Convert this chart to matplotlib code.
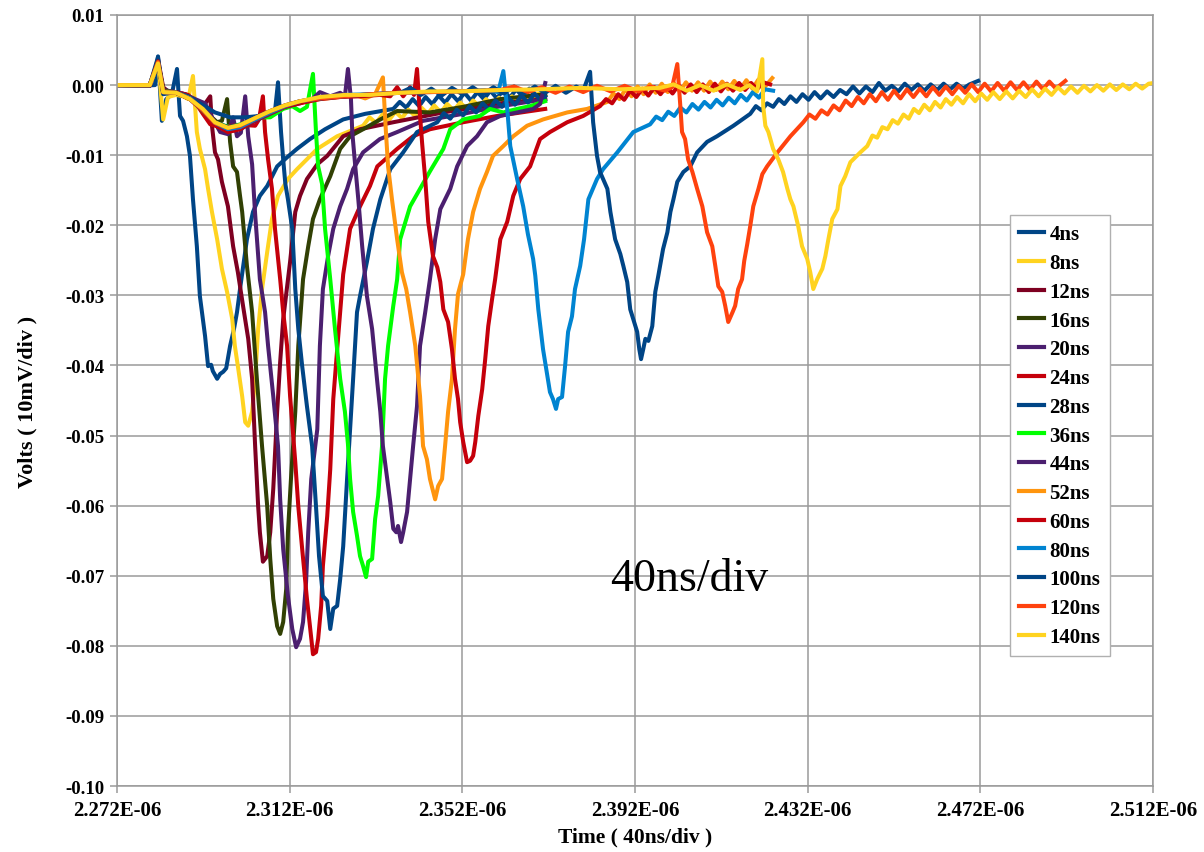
import matplotlib
matplotlib.use('Agg')
import matplotlib.pyplot as plt
from matplotlib.ticker import FuncFormatter, FormatStrFormatter

plt.rcParams['font.family'] = ['Liberation Serif', 'DejaVu Serif']

# time in ns (absolute), amplitude in volts
pulse_4ns = [(2272.0, 0.0), (2277.3, -0.0001), (2280.8, 0.0), (2281.5, 0.0041), (2282.4, -0.0051),
             (2283.4, -0.0020), (2284.7, -0.0013), (2285.9, 0.0023), (2286.6, -0.0044), (2287.3, -0.0051),
             (2288.2, -0.0073), (2288.9, -0.0101), (2289.6, -0.0163), (2290.5, -0.0230), (2291.2, -0.0301),
             (2292.4, -0.0358), (2293.1, -0.0401), (2293.8, -0.0399), (2294.2, -0.0408), (2295.2, -0.0419),
             (2295.9, -0.0412), (2296.6, -0.0409), (2297.3, -0.0404), (2298.2, -0.0372), (2299.1, -0.0348),
             (2299.8, -0.0324), (2300.5, -0.0291), (2301.4, -0.0251), (2302.1, -0.0220), (2303.5, -0.0181),
             (2305.1, -0.0158), (2306.8, -0.0144), (2309.1, -0.0116), (2311.4, -0.0103), (2313.7, -0.0091),
             (2316.7, -0.0077), (2320.2, -0.0063), (2324.4, -0.0049), (2329.5, -0.0041), (2336.0, -0.0034),
             (2337.5, -0.0024), (2339.0, -0.0032), (2340.5, -0.0020), (2342.0, -0.0030), (2343.5, -0.0017),
             (2345.0, -0.0027), (2346.5, -0.0015), (2348.0, -0.0025), (2349.5, -0.0013), (2351.0, -0.0023),
             (2352.5, -0.0011), (2354.0, -0.0022), (2355.5, -0.0010), (2357.0, -0.0020), (2358.5, -0.0008),
             (2360.0, -0.0019), (2361.5, -0.0007), (2363.0, -0.0018), (2364.5, -0.0006), (2366.0, -0.0017),
             (2367.5, -0.0005), (2369.0, -0.0016), (2371.2, -0.0008)]

pulse_8ns = [(2272.0, 0.0), (2279.6, 0.0), (2281.5, 0.0034), (2282.7, -0.0049), (2283.8, -0.0017),
             (2285.7, -0.0014), (2287.3, -0.0016), (2288.5, -0.0020), (2289.6, 0.0013), (2290.5, -0.0067),
             (2291.2, -0.0091), (2292.4, -0.0120), (2293.1, -0.0148), (2294.0, -0.0181), (2295.2, -0.0220),
             (2296.3, -0.0262), (2297.5, -0.0295), (2298.7, -0.0334), (2299.3, -0.0372), (2300.0, -0.0401),
             (2301.0, -0.0444), (2301.7, -0.0481), (2302.4, -0.0486), (2303.3, -0.0466), (2304.0, -0.0419),
             (2304.7, -0.0348), (2305.6, -0.0291), (2306.8, -0.0238), (2307.9, -0.0191), (2309.3, -0.0158),
             (2311.6, -0.0134), (2313.7, -0.0120), (2318.4, -0.0091), (2323.0, -0.0073), (2329.0, -0.0058),
             (2330.5, -0.0046), (2332.0, -0.0054), (2333.5, -0.0042), (2335.0, -0.0050), (2336.5, -0.0038),
             (2338.0, -0.0047), (2339.5, -0.0035), (2341.0, -0.0044), (2342.5, -0.0032), (2344.0, -0.0041),
             (2345.5, -0.0029), (2347.0, -0.0039), (2348.5, -0.0027), (2350.0, -0.0036), (2351.5, -0.0025),
             (2353.0, -0.0034), (2354.5, -0.0022), (2356.0, -0.0031), (2357.5, -0.0020), (2359.0, -0.0029),
             (2360.5, -0.0018), (2362.0, -0.0027), (2363.5, -0.0016), (2365.0, -0.0025), (2366.5, -0.0014),
             (2368.0, -0.0023), (2369.5, -0.0012), (2371.2, -0.0016)]

pulse_12ns = [(2272.0, 0.0), (2279.6, -0.0001), (2281.5, 0.0037), (2282.7, -0.0003), (2283.8, -0.0009),
              (2285.7, -0.0010), (2287.8, -0.0013), (2289.4, -0.0020), (2290.8, -0.0029), (2291.9, -0.0031),
              (2293.6, -0.0016), (2294.0, -0.0058), (2294.7, -0.0096), (2295.4, -0.0106), (2296.3, -0.0138),
              (2297.7, -0.0173), (2298.9, -0.0230), (2300.0, -0.0267), (2301.2, -0.0315), (2302.4, -0.0362),
              (2303.3, -0.0419), (2304.0, -0.0515), (2304.7, -0.0601), (2305.1, -0.0638), (2305.8, -0.0680),
              (2306.8, -0.0672), (2307.5, -0.0638), (2308.2, -0.0576), (2309.1, -0.0466), (2309.8, -0.0395),
              (2310.5, -0.0334), (2312.1, -0.0252), (2313.3, -0.0181), (2314.4, -0.0158), (2316.0, -0.0134),
              (2318.4, -0.0113), (2320.7, -0.0101), (2324.4, -0.0073), (2328.3, -0.0063), (2336.0, -0.0053),
              (2347.6, -0.0039), (2360.8, -0.0026), (2371.2, -0.0020)]

pulse_16ns = [(2272.0, 0.0), (2279.6, 0.0), (2281.5, 0.0033), (2282.7, -0.0006), (2284.7, -0.0010),
              (2287.8, -0.0014), (2289.6, -0.0020), (2291.2, -0.0026), (2292.6, -0.0037), (2293.6, -0.0044),
              (2295.2, -0.0053), (2296.3, -0.0051), (2297.5, -0.0020), (2298.2, -0.0081), (2298.9, -0.0116),
              (2299.8, -0.0124), (2300.5, -0.0158), (2301.0, -0.0181), (2302.1, -0.0258), (2303.3, -0.0324),
              (2304.4, -0.0419), (2305.6, -0.0515), (2306.8, -0.0601), (2307.5, -0.0676), (2308.2, -0.0733),
              (2309.1, -0.0772), (2309.8, -0.0783), (2310.5, -0.0766), (2311.2, -0.0719), (2311.6, -0.0638),
              (2312.3, -0.0562), (2313.3, -0.0466), (2314.0, -0.0372), (2315.1, -0.0277), (2316.3, -0.0230),
              (2317.4, -0.0191), (2319.0, -0.0163), (2321.4, -0.0130), (2323.7, -0.0091), (2326.0, -0.0073),
              (2329.0, -0.0063), (2333.0, -0.0049), (2336.9, -0.0037), (2344.5, -0.0039), (2352.2, -0.0031),
              (2360.8, -0.0020), (2371.2, -0.0013)]

pulse_20ns = [(2272.0, 0.0), (2279.6, -0.0001), (2281.5, 0.0031), (2282.7, -0.0007), (2284.7, -0.0009),
              (2287.8, -0.0013), (2290.1, -0.0020), (2292.4, -0.0026), (2294.0, -0.0046), (2295.9, -0.0067),
              (2297.7, -0.0070), (2298.9, -0.0046), (2299.8, -0.0073), (2300.7, -0.0068), (2301.7, -0.0016),
              (2302.4, -0.0073), (2303.3, -0.0113), (2304.0, -0.0184), (2305.1, -0.0277), (2306.3, -0.0324),
              (2307.0, -0.0372), (2308.2, -0.0444), (2309.3, -0.0515), (2309.8, -0.0591), (2310.5, -0.0662),
              (2311.6, -0.0729), (2312.6, -0.0776), (2313.5, -0.0802), (2314.4, -0.0790), (2315.1, -0.0766),
              (2315.8, -0.0709), (2316.3, -0.0638), (2317.0, -0.0562), (2318.4, -0.0491), (2319.0, -0.0372),
              (2319.7, -0.0291), (2320.9, -0.0244), (2322.1, -0.0205), (2323.7, -0.0173), (2325.3, -0.0148),
              (2326.7, -0.0120), (2329.0, -0.0096), (2332.9, -0.0077), (2336.9, -0.0067), (2342.9, -0.0051),
              (2352.2, -0.0041), (2360.1, -0.0031), (2371.2, -0.0020)]

pulse_24ns = [(2272.0, 0.0), (2279.6, 0.0), (2281.5, 0.0033), (2282.7, -0.0009), (2285.4, -0.0010),
              (2288.5, -0.0014), (2290.3, -0.0026), (2291.9, -0.0041), (2293.6, -0.0056), (2295.9, -0.0060),
              (2298.7, -0.0058), (2301.7, -0.0057), (2304.0, -0.0058), (2304.9, -0.0049), (2305.8, -0.0016),
              (2306.3, -0.0067), (2307.0, -0.0106), (2307.9, -0.0148), (2308.6, -0.0205), (2309.8, -0.0277),
              (2310.5, -0.0324), (2311.4, -0.0372), (2312.1, -0.0444), (2313.3, -0.0538), (2314.0, -0.0601),
              (2314.9, -0.0662), (2316.0, -0.0733), (2316.7, -0.0772), (2317.4, -0.0812), (2318.1, -0.0809),
              (2318.6, -0.0790), (2319.3, -0.0743), (2319.7, -0.0686), (2320.7, -0.0615), (2321.4, -0.0548),
              (2322.1, -0.0448), (2323.2, -0.0362), (2324.4, -0.0270), (2326.0, -0.0205), (2328.3, -0.0173),
              (2330.6, -0.0144), (2332.3, -0.0116), (2336.9, -0.0091), (2340.6, -0.0073), (2344.5, -0.0063),
              (2352.2, -0.0053), (2360.1, -0.0044), (2371.2, -0.0034)]

pulse_28ns = [(2272.0, 0.0), (2279.6, 0.0), (2281.5, 0.0040), (2282.7, -0.0013), (2285.4, -0.0010),
              (2288.5, -0.0016), (2291.2, -0.0026), (2294.7, -0.0039), (2298.2, -0.0046), (2301.7, -0.0046),
              (2305.1, -0.0044), (2307.5, -0.0041), (2308.6, -0.0037), (2309.3, 0.0004), (2310.0, -0.0067),
              (2310.5, -0.0106), (2311.0, -0.0141), (2311.6, -0.0163), (2312.6, -0.0205), (2313.3, -0.0291),
              (2314.0, -0.0348), (2314.9, -0.0401), (2316.0, -0.0458), (2317.2, -0.0515), (2318.1, -0.0601),
              (2318.8, -0.0672), (2319.7, -0.0729), (2320.7, -0.0736), (2321.4, -0.0776), (2322.1, -0.0747),
              (2323.0, -0.0743), (2323.7, -0.0705), (2324.4, -0.0658), (2325.3, -0.0562), (2326.0, -0.0491),
              (2326.7, -0.0419), (2327.6, -0.0324), (2328.3, -0.0301), (2329.9, -0.0252), (2331.3, -0.0205),
              (2333.0, -0.0163), (2335.3, -0.0120), (2338.3, -0.0096), (2341.5, -0.0067), (2346.2, -0.0053),
              (2347.7, -0.0040), (2349.2, -0.0048), (2350.7, -0.0035), (2352.2, -0.0043), (2353.7, -0.0030),
              (2355.2, -0.0039), (2356.7, -0.0026), (2358.2, -0.0035), (2359.7, -0.0022), (2361.2, -0.0031),
              (2362.7, -0.0018), (2364.2, -0.0028), (2365.7, -0.0015), (2367.2, -0.0025), (2368.7, -0.0012),
              (2370.2, -0.0022), (2371.2, -0.0016)]

pulse_36ns = [(2272.0, 0.0), (2279.6, 0.0), (2281.5, 0.0033), (2282.7, -0.0009), (2285.4, -0.0010),
              (2288.9, -0.0019), (2291.9, -0.0037), (2294.7, -0.0054), (2298.2, -0.0060), (2301.7, -0.0054),
              (2304.4, -0.0046), (2307.5, -0.0046), (2310.5, -0.0034), (2312.6, -0.0030), (2314.4, -0.0037),
              (2316.0, -0.0031), (2317.4, 0.0016), (2318.1, -0.0067), (2318.6, -0.0116), (2319.5, -0.0141),
              (2320.2, -0.0205), (2321.4, -0.0277), (2322.5, -0.0348), (2323.7, -0.0419), (2324.8, -0.0466),
              (2325.5, -0.0512), (2326.0, -0.0562), (2326.7, -0.0609), (2327.6, -0.0643), (2328.3, -0.0672),
              (2329.0, -0.0686), (2329.7, -0.0702), (2330.2, -0.0680), (2331.1, -0.0676), (2331.8, -0.0619),
              (2332.5, -0.0586), (2333.4, -0.0515), (2334.1, -0.0419), (2334.8, -0.0372), (2336.0, -0.0315),
              (2336.9, -0.0277), (2337.6, -0.0220), (2339.9, -0.0173), (2342.2, -0.0148), (2344.5, -0.0123),
              (2347.6, -0.0091), (2349.2, -0.0063), (2352.2, -0.0049), (2356.1, -0.0044), (2358.4, -0.0034),
              (2361.5, -0.0039), (2364.7, -0.0034), (2367.7, -0.0030), (2371.2, -0.0023)]

pulse_44ns = [(2272.0, 0.0), (2279.6, 0.0), (2281.5, 0.0031), (2282.7, -0.0010), (2285.7, -0.0011),
              (2288.9, -0.0019), (2291.9, -0.0034), (2294.7, -0.0054), (2297.7, -0.0066), (2300.5, -0.0063),
              (2304.0, -0.0051), (2307.5, -0.0041), (2310.9, -0.0031), (2314.4, -0.0026), (2317.2, -0.0020),
              (2319.0, -0.0010), (2321.4, -0.0016), (2323.7, -0.0011), (2324.8, -0.0016), (2325.5, 0.0023),
              (2326.2, -0.0020), (2326.5, -0.0067), (2327.2, -0.0116), (2327.9, -0.0163), (2328.8, -0.0230),
              (2329.9, -0.0301), (2331.1, -0.0348), (2332.3, -0.0424), (2333.0, -0.0466), (2333.6, -0.0515),
              (2334.6, -0.0562), (2335.3, -0.0595), (2336.0, -0.0633), (2336.7, -0.0638), (2337.1, -0.0629),
              (2337.8, -0.0652), (2338.3, -0.0638), (2339.2, -0.0609), (2339.9, -0.0562), (2340.6, -0.0515),
              (2341.5, -0.0458), (2342.2, -0.0372), (2343.4, -0.0324), (2344.5, -0.0277), (2345.7, -0.0220),
              (2346.9, -0.0177), (2349.2, -0.0148), (2350.8, -0.0116), (2353.1, -0.0087), (2355.4, -0.0073),
              (2357.7, -0.0053), (2360.8, -0.0044), (2364.7, -0.0039), (2368.4, -0.0034), (2370.0, -0.0027),
              (2371.2, 0.0003)]

pulse_52ns = [(2272.0, 0.0), (2279.6, 0.0), (2281.5, 0.0030), (2282.7, -0.0010), (2285.7, -0.0011),
              (2288.9, -0.0019), (2291.9, -0.0036), (2294.7, -0.0056), (2297.7, -0.0066), (2300.5, -0.0061),
              (2304.0, -0.0049), (2307.5, -0.0039), (2310.9, -0.0030), (2314.4, -0.0024), (2319.0, -0.0020),
              (2323.7, -0.0017), (2327.2, -0.0014), (2329.5, -0.0019), (2331.8, -0.0013), (2333.6, 0.0011),
              (2334.3, -0.0067), (2334.8, -0.0116), (2335.7, -0.0163), (2336.9, -0.0220), (2338.0, -0.0267),
              (2339.0, -0.0291), (2339.9, -0.0324), (2341.1, -0.0372), (2342.2, -0.0444), (2342.9, -0.0515),
              (2343.8, -0.0534), (2344.5, -0.0562), (2345.7, -0.0591), (2346.4, -0.0572), (2347.3, -0.0562),
              (2348.0, -0.0515), (2348.7, -0.0466), (2349.6, -0.0419), (2350.3, -0.0348), (2351.0, -0.0298),
              (2352.2, -0.0270), (2353.3, -0.0220), (2354.5, -0.0181), (2356.1, -0.0148), (2357.7, -0.0124),
              (2359.1, -0.0101), (2361.5, -0.0087), (2363.8, -0.0073), (2367.0, -0.0058), (2370.7, -0.0049),
              (2376.3, -0.0039), (2380.9, -0.0034), (2385.6, -0.0024), (2387.0, -0.0012), (2388.4, -0.0020),
              (2389.8, -0.0006), (2391.2, -0.0016), (2392.6, -0.0002), (2394.0, -0.0013), (2395.4, 0.0001),
              (2396.8, -0.0011), (2398.2, 0.0002), (2399.6, -0.0010), (2401.0, 0.0003), (2402.4, -0.0009),
              (2403.8, 0.0004), (2405.2, -0.0008), (2406.6, 0.0004), (2408.0, -0.0008), (2409.4, 0.0005),
              (2410.8, -0.0007), (2412.2, 0.0005), (2413.6, -0.0006), (2415.0, 0.0006), (2416.4, -0.0006),
              (2417.8, 0.0007), (2419.2, -0.0005), (2420.6, 0.0008), (2422.0, -0.0003), (2423.8, 0.0010)]

pulse_60ns = [(2272.0, 0.0), (2279.6, 0.0), (2281.5, 0.0034), (2282.7, -0.0009), (2285.7, -0.0011),
              (2288.9, -0.0020), (2291.9, -0.0037), (2294.7, -0.0057), (2297.7, -0.0067), (2300.5, -0.0063),
              (2304.0, -0.0050), (2307.5, -0.0040), (2310.9, -0.0031), (2314.4, -0.0026), (2319.0, -0.0020),
              (2323.7, -0.0017), (2328.3, -0.0016), (2332.9, -0.0014), (2335.3, -0.0016), (2336.9, -0.0003),
              (2338.3, -0.0016), (2339.9, -0.0003), (2340.8, -0.0014), (2341.5, 0.0023), (2342.2, -0.0044),
              (2342.7, -0.0084), (2343.4, -0.0134), (2344.1, -0.0195), (2345.2, -0.0244), (2346.2, -0.0260),
              (2346.9, -0.0281), (2347.6, -0.0320), (2348.7, -0.0338), (2349.6, -0.0377), (2350.3, -0.0419),
              (2351.0, -0.0448), (2351.5, -0.0481), (2352.2, -0.0509), (2353.1, -0.0538), (2353.8, -0.0536),
              (2354.5, -0.0529), (2355.0, -0.0509), (2355.7, -0.0472), (2356.6, -0.0434), (2357.3, -0.0391),
              (2358.0, -0.0344), (2358.9, -0.0305), (2359.6, -0.0277), (2360.8, -0.0220), (2362.4, -0.0195),
              (2363.8, -0.0158), (2365.4, -0.0134), (2367.7, -0.0116), (2370.0, -0.0077), (2372.3, -0.0067),
              (2376.3, -0.0053), (2380.0, -0.0044), (2383.9, -0.0030), (2385.3, -0.0020), (2386.7, -0.0026),
              (2388.1, -0.0013), (2389.5, -0.0021), (2390.9, -0.0008), (2392.3, -0.0017), (2393.7, -0.0005),
              (2395.1, -0.0015), (2396.5, -0.0003), (2397.9, -0.0013), (2399.3, -0.0002), (2400.7, -0.0012),
              (2402.1, 0.0000), (2403.5, -0.0011), (2404.9, 0.0001), (2406.3, -0.0010), (2407.7, 0.0001),
              (2409.1, -0.0010), (2410.5, 0.0002), (2411.9, -0.0009), (2413.3, 0.0002), (2414.7, -0.0008),
              (2416.1, 0.0003), (2417.5, -0.0007), (2418.9, 0.0003), (2420.3, -0.0006), (2421.7, 0.0004),
              (2423.3, 0.0001)]

pulse_80ns = [(2272.0, 0.0), (2279.6, 0.0), (2281.5, 0.0031), (2282.7, -0.0010), (2285.7, -0.0011),
              (2288.9, -0.0019), (2291.9, -0.0036), (2294.7, -0.0054), (2297.7, -0.0063), (2300.5, -0.0060),
              (2304.0, -0.0049), (2307.5, -0.0039), (2310.9, -0.0030), (2314.4, -0.0023), (2319.0, -0.0019),
              (2324.8, -0.0014), (2330.6, -0.0013), (2337.6, -0.0011), (2344.5, -0.0010), (2351.5, -0.0009),
              (2357.3, -0.0007), (2360.3, -0.0010), (2361.5, 0.0020), (2362.4, -0.0034), (2363.1, -0.0087),
              (2364.7, -0.0134), (2366.1, -0.0173), (2367.2, -0.0213), (2368.4, -0.0248), (2368.9, -0.0272),
              (2369.6, -0.0320), (2370.7, -0.0377), (2371.7, -0.0415), (2372.3, -0.0438), (2373.0, -0.0448),
              (2373.7, -0.0462), (2374.2, -0.0448), (2375.1, -0.0445), (2375.8, -0.0401), (2376.5, -0.0352),
              (2377.4, -0.0330), (2378.1, -0.0291), (2379.3, -0.0258), (2380.2, -0.0220), (2381.2, -0.0163),
              (2383.2, -0.0134), (2384.6, -0.0120), (2387.9, -0.0096), (2391.6, -0.0067), (2395.5, -0.0056),
              (2396.9, -0.0045), (2398.3, -0.0050), (2399.7, -0.0038), (2401.1, -0.0044), (2402.5, -0.0032),
              (2403.9, -0.0039), (2405.3, -0.0027), (2406.7, -0.0035), (2408.1, -0.0024), (2409.5, -0.0032),
              (2410.9, -0.0021), (2412.3, -0.0029), (2413.7, -0.0018), (2415.1, -0.0026), (2416.5, -0.0014),
              (2417.9, -0.0022), (2419.3, -0.0010), (2420.7, -0.0018), (2422.1, -0.0006), (2424.0, -0.0008)]

pulse_100ns = [(2272.0, 0.0), (2279.6, 0.0), (2281.5, 0.0033), (2282.7, -0.0010), (2285.7, -0.0011),
               (2288.9, -0.0020), (2291.9, -0.0036), (2294.7, -0.0053), (2297.7, -0.0060), (2300.5, -0.0057),
               (2304.0, -0.0046), (2307.5, -0.0037), (2310.9, -0.0029), (2314.4, -0.0023), (2319.0, -0.0019),
               (2324.8, -0.0016), (2330.6, -0.0013), (2337.6, -0.0011), (2340.0, -0.0004), (2342.4, -0.0014),
               (2344.8, -0.0005), (2347.2, -0.0015), (2349.6, -0.0004), (2352.0, -0.0013), (2354.4, -0.0003),
               (2356.8, -0.0013), (2359.2, -0.0003), (2361.6, -0.0012), (2364.0, -0.0002), (2366.4, -0.0012),
               (2368.8, -0.0002), (2371.2, -0.0011), (2373.6, -0.0001), (2376.0, -0.0011), (2378.4, -0.0002),
               (2380.0, -0.0008), (2381.6, 0.0019), (2382.3, -0.0053), (2383.2, -0.0101), (2383.9, -0.0124),
               (2385.6, -0.0148), (2386.3, -0.0181), (2387.4, -0.0220), (2388.6, -0.0241), (2389.3, -0.0258),
               (2390.2, -0.0281), (2390.9, -0.0320), (2391.6, -0.0334), (2392.5, -0.0352), (2393.0, -0.0377),
               (2393.4, -0.0391), (2393.9, -0.0377), (2394.4, -0.0362), (2395.1, -0.0365), (2396.0, -0.0344),
               (2396.7, -0.0295), (2397.4, -0.0272), (2398.5, -0.0234), (2399.5, -0.0210), (2400.2, -0.0181),
               (2400.9, -0.0163), (2401.8, -0.0138), (2403.2, -0.0124), (2404.8, -0.0116), (2406.4, -0.0096),
               (2408.7, -0.0081), (2411.0, -0.0073), (2414.8, -0.0058), (2418.7, -0.0041), (2420.0, -0.0030),
               (2421.3, -0.0036), (2422.6, -0.0026), (2424.0, -0.0031), (2425.3, -0.0020), (2426.6, -0.0027),
               (2428.0, -0.0016), (2429.4, -0.0024), (2430.8, -0.0013), (2432.2, -0.0021), (2433.6, -0.0010),
               (2435.0, -0.0019), (2436.5, -0.0009), (2438.0, -0.0017), (2439.5, -0.0007), (2441.0, -0.0013),
               (2442.5, -0.0002), (2444.0, -0.0012), (2445.5, -0.0002), (2447.0, -0.0010), (2448.5, 0.0003),
               (2450.0, -0.0008), (2451.5, -0.0001), (2453.0, -0.0009), (2454.5, 0.0002), (2456.0, -0.0007),
               (2457.5, 0.0001), (2459.0, -0.0008), (2460.5, 0.0001), (2462.0, -0.0007), (2463.5, 0.0002),
               (2465.0, -0.0006), (2466.5, 0.0002), (2468.0, -0.0005), (2469.5, 0.0001), (2471.5, 0.0006)]

pulse_120ns = [(2272.0, 0.0), (2279.6, 0.0), (2281.5, 0.0033), (2282.7, -0.0010), (2285.7, -0.0011),
               (2288.9, -0.0020), (2291.9, -0.0036), (2294.7, -0.0054), (2297.7, -0.0061), (2300.5, -0.0058),
               (2304.0, -0.0047), (2307.5, -0.0037), (2310.9, -0.0029), (2314.4, -0.0023), (2319.0, -0.0019),
               (2324.8, -0.0016), (2330.6, -0.0013), (2337.6, -0.0011), (2344.5, -0.0010), (2351.5, -0.0009),
               (2360.8, -0.0007), (2364.0, -0.0002), (2367.2, -0.0010), (2370.4, -0.0003), (2373.6, -0.0011),
               (2376.8, -0.0002), (2380.0, -0.0010), (2383.2, -0.0001), (2386.4, -0.0009), (2389.6, -0.0001),
               (2392.8, -0.0009), (2395.5, -0.0002), (2398.9, -0.0008), (2400.6, -0.0003), (2401.8, 0.0030),
               (2402.5, -0.0030), (2402.9, -0.0067), (2403.6, -0.0077), (2404.3, -0.0106), (2405.3, -0.0124),
               (2406.4, -0.0148), (2407.6, -0.0173), (2408.7, -0.0210), (2409.9, -0.0230), (2410.6, -0.0258),
               (2411.3, -0.0287), (2412.2, -0.0295), (2412.9, -0.0315), (2413.6, -0.0338), (2414.6, -0.0324),
               (2415.2, -0.0315), (2415.9, -0.0291), (2416.8, -0.0277), (2417.3, -0.0251), (2418.0, -0.0227),
               (2418.7, -0.0201), (2419.4, -0.0173), (2420.6, -0.0148), (2421.5, -0.0127), (2422.6, -0.0116),
               (2425.0, -0.0096), (2428.0, -0.0073), (2431.0, -0.0053), (2432.4, -0.0042), (2433.8, -0.0048),
               (2435.2, -0.0036), (2436.6, -0.0042), (2438.0, -0.0029), (2439.4, -0.0036), (2440.8, -0.0022),
               (2442.2, -0.0030), (2443.6, -0.0017), (2445.0, -0.0026), (2446.4, -0.0013), (2447.8, -0.0023),
               (2449.2, -0.0010), (2450.6, -0.0021), (2452.0, -0.0008), (2453.5, -0.0019), (2455.0, -0.0006),
               (2456.5, -0.0017), (2458.0, -0.0005), (2459.5, -0.0016), (2461.0, -0.0003), (2462.5, -0.0014),
               (2464.0, -0.0002), (2465.5, -0.0013), (2467.0, -0.0001), (2468.5, -0.0011), (2470.0, 0.0001),
               (2471.5, -0.0010), (2473.0, 0.0002), (2474.5, -0.0009), (2476.0, 0.0003), (2477.5, -0.0008),
               (2479.0, 0.0004), (2480.5, -0.0007), (2482.0, 0.0004), (2483.5, -0.0007), (2485.0, 0.0005),
               (2486.5, -0.0006), (2488.0, 0.0005), (2489.5, -0.0005), (2491.7, 0.0006)]

pulse_140ns = [(2272.0, 0.0), (2279.6, 0.0), (2281.5, 0.0031), (2282.7, -0.0010), (2285.7, -0.0011),
               (2288.9, -0.0020), (2291.9, -0.0034), (2294.7, -0.0053), (2297.7, -0.0061), (2300.5, -0.0057),
               (2304.0, -0.0047), (2307.5, -0.0037), (2310.9, -0.0029), (2314.4, -0.0023), (2319.0, -0.0017),
               (2324.8, -0.0014), (2330.6, -0.0014), (2337.6, -0.0011), (2344.5, -0.0009), (2351.5, -0.0009),
               (2360.8, -0.0007), (2370.0, -0.0006), (2379.3, -0.0004), (2388.6, -0.0006), (2397.8, -0.0004),
               (2400.9, 0.0001), (2404.0, -0.0008), (2407.1, 0.0000), (2410.2, -0.0008), (2413.3, 0.0001),
               (2416.4, -0.0007), (2418.5, 0.0000), (2420.3, -0.0009), (2421.5, 0.0037), (2421.7, -0.0030),
               (2422.2, -0.0058), (2422.9, -0.0067), (2424.0, -0.0091), (2425.2, -0.0106), (2426.3, -0.0124),
               (2427.3, -0.0148), (2428.0, -0.0163), (2428.7, -0.0173), (2429.8, -0.0201), (2430.7, -0.0230),
               (2431.9, -0.0248), (2432.6, -0.0267), (2433.3, -0.0291), (2434.2, -0.0277), (2435.4, -0.0262),
               (2436.1, -0.0244), (2436.8, -0.0220), (2437.7, -0.0191), (2438.9, -0.0177), (2439.6, -0.0144),
               (2440.7, -0.0130), (2441.9, -0.0110), (2444.2, -0.0096), (2445.8, -0.0087), (2447.0, -0.0072),
               (2448.1, -0.0075), (2449.3, -0.0060), (2450.5, -0.0063), (2451.7, -0.0050), (2452.9, -0.0055),
               (2454.2, -0.0042), (2455.4, -0.0048), (2456.6, -0.0034), (2457.8, -0.0040), (2459.0, -0.0028),
               (2460.3, -0.0036), (2461.5, -0.0024), (2462.8, -0.0032), (2464.0, -0.0020), (2465.3, -0.0028),
               (2466.6, -0.0017), (2468.0, -0.0026), (2469.4, -0.0013), (2470.8, -0.0023), (2472.2, -0.0012),
               (2473.6, -0.0021), (2475.0, -0.0010), (2476.5, -0.0020), (2478.0, -0.0009), (2479.5, -0.0019),
               (2481.0, -0.0008), (2482.5, -0.0017), (2484.0, -0.0006), (2485.5, -0.0016), (2487.0, -0.0005),
               (2488.5, -0.0014), (2490.0, -0.0003), (2491.5, -0.0012), (2493.0, -0.0002), (2494.5, -0.0011),
               (2496.0, -0.0001), (2497.5, -0.0009), (2499.0, 0.0000), (2500.5, -0.0008), (2502.0, 0.0001),
               (2503.5, -0.0007), (2505.0, 0.0001), (2506.5, -0.0006), (2508.0, 0.0002), (2509.5, -0.0005),
               (2511.0, 0.0002), (2512.1, 0.0003)]

labels = ['4ns', '8ns', '12ns', '16ns', '20ns', '24ns', '28ns', '36ns',
          '44ns', '52ns', '60ns', '80ns', '100ns', '120ns', '140ns']
pulses = [pulse_4ns, pulse_8ns, pulse_12ns, pulse_16ns, pulse_20ns, pulse_24ns, pulse_28ns, pulse_36ns,
          pulse_44ns, pulse_52ns, pulse_60ns, pulse_80ns, pulse_100ns, pulse_120ns, pulse_140ns]
colors = ['#004586', '#ffd320', '#7e0021', '#314004', '#4b1f6f', '#c5000b', '#004586', '#00ff00',
          '#4b1f6f', '#ff950e', '#c5000b', '#0084d1', '#004586', '#ff420e', '#ffd320']

x_ticks = [2272, 2312, 2352, 2392, 2432, 2472, 2512]
y_ticks = [0.01, 0.0, -0.01, -0.02, -0.03, -0.04, -0.05, -0.06, -0.07, -0.08, -0.09, -0.10]

fig = plt.figure(figsize=(12.04, 8.53), dpi=100)
ax = fig.add_axes([117 / 1204, 66 / 853, 1036 / 1204, 771 / 853])

for pts, lab, col in zip(pulses, labels, colors):
    t = [p[0] for p in pts]
    v = [p[1] for p in pts]
    ax.plot(t, v, color=col, linewidth=2.9, label=lab, solid_joinstyle='round')

ax.set_xlim(2272, 2512)
ax.set_ylim(-0.10, 0.01)
ax.set_xticks(x_ticks)
ax.set_yticks(y_ticks)
ax.xaxis.set_major_formatter(FuncFormatter(lambda v, pos: '{:.3E}'.format(v * 1e-9)))
ax.yaxis.set_major_formatter(FormatStrFormatter('%.2f'))
ax.grid(True, color='#9a9a9a', linewidth=1.1)
ax.set_axisbelow(True)
for sp in ax.spines.values():
    sp.set_color('#9a9a9a')
    sp.set_linewidth(1.1)
ax.tick_params(axis='both', direction='out', length=5, color='#9a9a9a', width=1.1)
ax.tick_params(axis='y', labelsize=13.5, pad=4)
ax.tick_params(axis='x', labelsize=15, pad=5)
for lbl in ax.get_xticklabels() + ax.get_yticklabels():
    lbl.set_fontweight('bold')

ax.set_xlabel('Time ( 40ns/div )', fontsize=15.5, fontweight='bold', labelpad=5)
ax.set_ylabel('Volts ( 10mV/div )', fontsize=16, fontweight='bold', labelpad=20)

ax.text(2386.3, -0.0705, '40ns/div', fontsize=33, ha='left', va='center')

leg = ax.legend(loc='upper left', bbox_to_anchor=(0.862, 0.7406), borderaxespad=0,
                fancybox=False, edgecolor='#b0b0b0', framealpha=1,
                prop={'family': 'Liberation Serif', 'weight': 'bold', 'size': 15},
                handlelength=1.2, handletextpad=0.25, labelspacing=0.42, borderpad=0.45)
leg.get_frame().set_linewidth(1.0)
for line in leg.get_lines():
    line.set_linewidth(3.0)

fig.savefig('out.png', dpi=100)
